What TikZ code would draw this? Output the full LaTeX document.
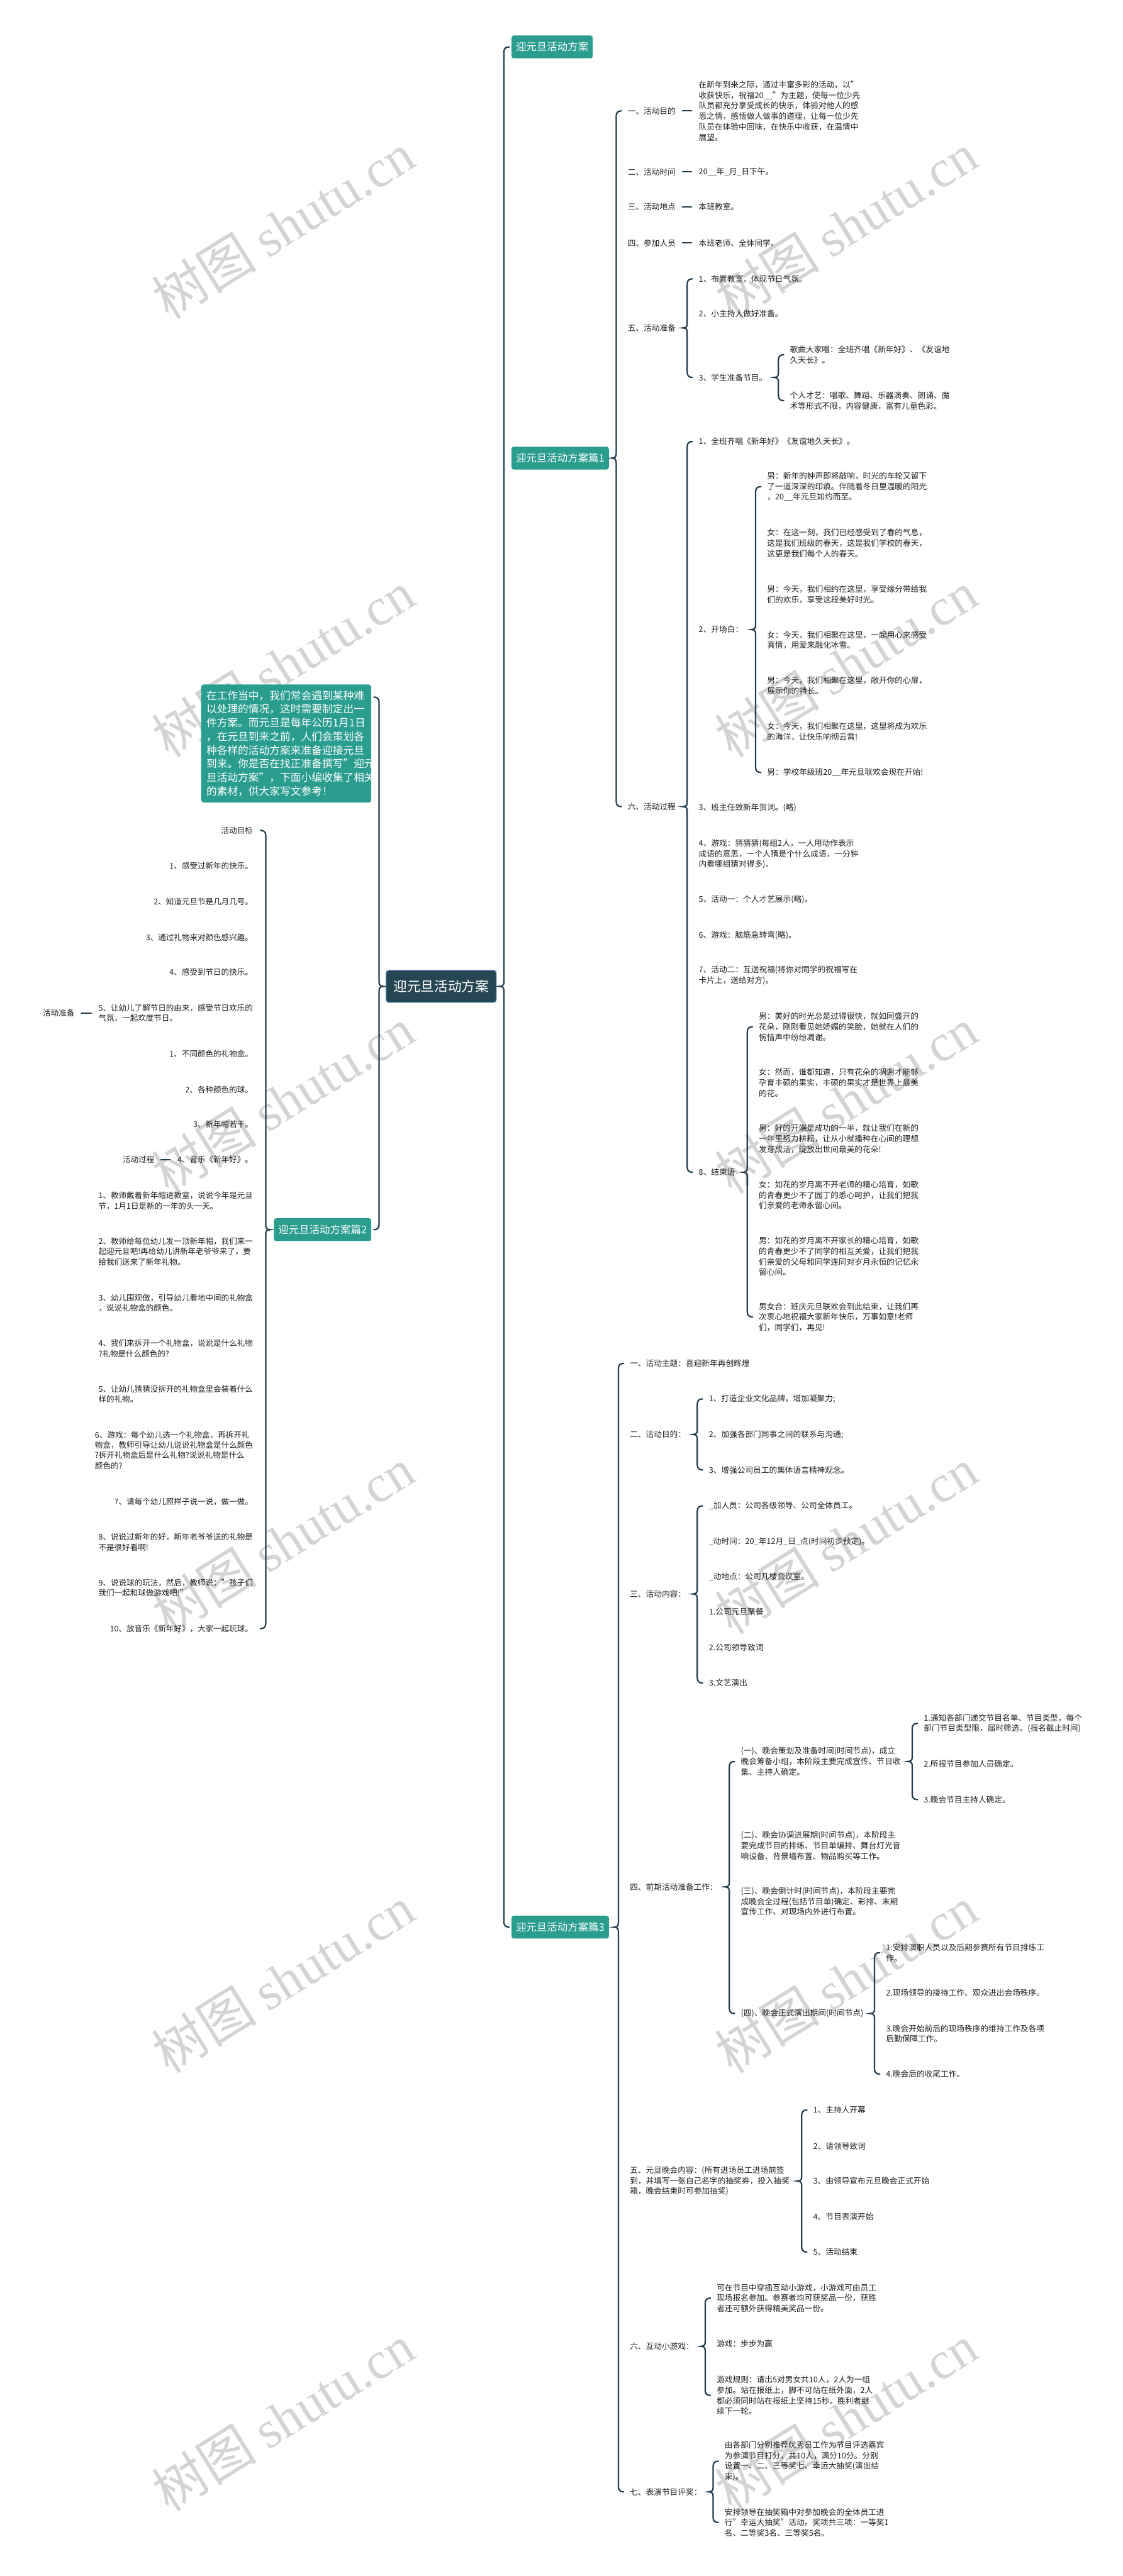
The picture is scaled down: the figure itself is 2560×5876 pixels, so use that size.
\documentclass[tikz,border=0pt]{standalone}
\usepackage{fontspec}
\setmainfont{Noto Sans CJK SC}
\newfontfamily\wmlat{Liberation Serif}
\usetikzlibrary{calc}
\definecolor{lineC}{HTML}{233D4D}
\definecolor{tealC}{HTML}{2A9D8F}
\definecolor{rootC}{HTML}{264653}
\definecolor{rootB}{RGB}{70,125,180}
\definecolor{wmC}{RGB}{212,212,212}
\tikzset{
  txt/.style={inner sep=0pt, font=\fontsize{9.1}{12}\selectfont, align=left, text=black!88},
  ltxt/.style={inner sep=0pt, font=\fontsize{9}{11.8}\selectfont, align=left, text=black!88},
  conn/.style={draw=lineC, line width=1.6pt, line cap=round},
  tbox/.style={fill=tealC, rounded corners=2.5pt, text=white, font=\fontsize{11.8}{14}\selectfont, inner xsep=5pt, inner ysep=0pt, minimum height=26pt},
  sumbox/.style={fill=tealC, rounded corners=3pt, text=white, font=\fontsize{12}{15.6}\selectfont, align=left, text width=182pt, inner xsep=6pt, inner ysep=7pt},
  rootbox/.style={fill=rootC, draw=rootB, line width=0.8pt, rounded corners=3pt, text=white, font=\fontsize{15.5}{18}\selectfont, minimum width=125.5pt, minimum height=36.5pt},
  wm/.style={text=wmC, rotate=32, inner sep=0pt, font=\fontsize{60}{60}\selectfont}
}
% right brace: parent, first child, last child, gap
\newcommand\RB[4]{%
 \draw[conn] let \p1=(#1.east), \p2=(#2.west), \p3=(#3.west), \p4=($(#2.west)+(-#4,0)$) in
  (\x4+6pt,\y2) .. controls (\x4+2pt,\y2) and (\x4,\y2-2pt) .. (\x4,\y2-6pt)
  -- (\x4,\y1+5pt) .. controls (\x4,\y1+2pt) and (\x4-1pt,\y1) .. (\x4-5pt,\y1)
  .. controls (\x4-1pt,\y1) and (\x4,\y1-2pt) .. (\x4,\y1-5pt)
  -- (\x4,\y3+6pt) .. controls (\x4,\y3+2pt) and (\x4+2pt,\y3) .. (\x4+6pt,\y3);}
% left brace
\newcommand\LB[4]{%
 \draw[conn] let \p1=(#1.west), \p2=(#2.east), \p3=(#3.east), \p4=($(#2.east)+(#4,0)$) in
  (\x4-6pt,\y2) .. controls (\x4-2pt,\y2) and (\x4,\y2-2pt) .. (\x4,\y2-6pt)
  -- (\x4,\y1+5pt) .. controls (\x4,\y1+2pt) and (\x4+1pt,\y1) .. (\x4+5pt,\y1)
  .. controls (\x4+1pt,\y1) and (\x4,\y1-2pt) .. (\x4,\y1-5pt)
  -- (\x4,\y3+6pt) .. controls (\x4,\y3+2pt) and (\x4-2pt,\y3) .. (\x4-6pt,\y3);}
\newcommand\DR[2]{\draw[conn] ([xshift=7.5pt]#1.east) -- ([xshift=-8pt]#2.west);}
\newcommand\DL[2]{\draw[conn] ([xshift=-8pt]#1.west) -- ([xshift=7.5pt]#2.east);}
\begin{document}
\begin{tikzpicture}[x=0.5pt,y=-0.5pt]
\useasboundingbox (0,0) rectangle (2560,5876);
\fill[white] (0,0) rectangle (2560,5876);
% watermarks
\foreach \wy [count=\i] in {515,1515,2510,3515,4515,5515}{
  \node[wm] (wl\i) at (645,\wy) {树图 {\wmlat shutu.cn}};
  \node[wm] (wr\i) at (1929,\wy) {树图 {\wmlat shutu.cn}};
}
% root
\node[rootbox] (root) at (1006,2250) {迎元旦活动方案};
% main branches
\node[tbox, anchor=west] (t0) at (1166,107) {迎元旦活动方案};
\node[tbox, anchor=west] (t1) at (1166,1045) {迎元旦活动方案篇1};
\node[tbox, anchor=west] (t3) at (1166,4396) {迎元旦活动方案篇3};
\node[tbox, anchor=east] (t2) at (847,2805) {迎元旦活动方案篇2};
\node[sumbox, anchor=north east] (sum) at (847,1561) {在工作当中，我们常会遇到某种难\\以处理的情况，这时需要制定出一\\件方案。而元旦是每年公历1月1日\\，在元旦到来之前，人们会策划各\\种各样的活动方案来准备迎接元旦\\到来。你是否在找正准备撰写"迎元\\旦活动方案"，下面小编收集了相关\\的素材，供大家写文参考！};
\node[inner sep=0pt, minimum size=0pt] (sumhook) at ([yshift=-14.5pt]sum.north east) {};
\RB{root}{t0}{t3}{8.5pt}
\LB{root}{sumhook}{t2}{8.5pt}

% ---------- branch 1 ----------
\node[txt, anchor=west] (b1a) at (1431,253) {一、活动目的};
\node[txt, anchor=west] (p1a) at (1593,253) {在新年到来之际，通过丰富多彩的活动，以"\\收获快乐，祝福20\_\_"为主题，使每一位少先\\队员都充分享受成长的快乐，体验对他人的感\\恩之情，感悟做人做事的道理，让每一位少先\\队员在体验中回味，在快乐中收获，在温情中\\展望。};
\node[txt, anchor=west] (b1b) at (1431,392) {二、活动时间};
\node[txt, anchor=west] (p1b) at (1593,392) {20\_\_年\_月\_日下午。};
\node[txt, anchor=west] (b1c) at (1431,472) {三、活动地点};
\node[txt, anchor=west] (p1c) at (1593,472) {本班教室。};
\node[txt, anchor=west] (b1d) at (1431,554) {四、参加人员};
\node[txt, anchor=west] (p1d) at (1593,554) {本班老师、全体同学。};
\node[txt, anchor=west] (b1e) at (1431,748) {五、活动准备};
\node[txt, anchor=west] (c1) at (1593,636) {1、布置教室，体现节日气氛。};
\node[txt, anchor=west] (c2) at (1593,716) {2、小主持人做好准备。};
\node[txt, anchor=west] (c3) at (1593,861) {3、学生准备节目。};
\node[txt, anchor=west] (d1) at (1801,809) {歌曲大家唱：全班齐唱《新年好》、《友谊地\\久天长》。};
\node[txt, anchor=west] (d2) at (1801,914) {个人才艺：唱歌、舞蹈、乐器演奏、朗诵、魔\\术等形式不限，内容健康，富有儿童色彩。};
\node[txt, anchor=west] (b1f) at (1431,1840) {六、活动过程};
\node[txt, anchor=west] (e1) at (1593,1007) {1、全班齐唱《新年好》《友谊地久天长》。};
\node[txt, anchor=west] (e2) at (1593,1436) {2、开场白：};
\node[txt, anchor=west] (f1) at (1749,1110) {男：新年的钟声即将敲响，时光的车轮又留下\\了一道深深的印痕。伴随着冬日里温暖的阳光\\，20\_\_年元旦如约而至。};
\node[txt, anchor=west] (f2) at (1749,1239) {女：在这一刻，我们已经感受到了春的气息，\\这是我们班级的春天，这是我们学校的春天，\\这更是我们每个人的春天。};
\node[txt, anchor=west] (f3) at (1749,1356) {男：今天，我们相约在这里，享受缘分带给我\\们的欢乐，享受这段美好时光。};
\node[txt, anchor=west] (f4) at (1749,1460) {女：今天，我们相聚在这里，一起用心来感受\\真情，用爱来融化冰雪。};
\node[txt, anchor=west] (f5) at (1749,1564) {男：今天，我们相聚在这里，敞开你的心扉，\\展示你的特长。};
\node[txt, anchor=west] (f6) at (1749,1669) {女：今天，我们相聚在这里，这里将成为欢乐\\的海洋，让快乐响彻云霄!};
\node[txt, anchor=west] (f7) at (1749,1762) {男：学校年级班20\_\_年元旦联欢会现在开始!};
\node[txt, anchor=west] (e3) at (1593,1842) {3、班主任致新年贺词。(略)};
\node[txt, anchor=west] (e4) at (1593,1948) {4、游戏：猜猜猜(每组2人，一人用动作表示\\成语的意思，一个人猜是个什么成语，一分钟\\内看哪组猜对得多)。};
\node[txt, anchor=west] (e5) at (1593,2052) {5、活动一：个人才艺展示(略)。};
\node[txt, anchor=west] (e6) at (1593,2134) {6、游戏：脑筋急转弯(略)。};
\node[txt, anchor=west] (e7) at (1593,2225) {7、活动二：互送祝福(将你对同学的祝福写在\\卡片上，送给对方)。};
\node[txt, anchor=west] (e8) at (1593,2674) {8、结束语};
\node[txt, anchor=west] (g1) at (1730,2342) {男：美好的时光总是过得很快，就如同盛开的\\花朵，刚刚看见她娇媚的笑脸，她就在人们的\\惋惜声中纷纷凋谢。};
\node[txt, anchor=west] (g2) at (1730,2470) {女：然而，谁都知道，只有花朵的凋谢才能够\\孕育丰硕的果实，丰硕的果实才是世界上最美\\的花。};
\node[txt, anchor=west] (g3) at (1730,2598) {男：好的开端是成功的一半，就让我们在新的\\一年里努力耕耘，让从小就播种在心间的理想\\发芽成活，绽放出世间最美的花朵!};
\node[txt, anchor=west] (g4) at (1730,2726) {女：如花的岁月离不开老师的精心培育，如歌\\的青春更少不了园丁的悉心呵护，让我们把我\\们亲爱的老师永留心间。};
\node[txt, anchor=west] (g5) at (1730,2866) {男：如花的岁月离不开家长的精心培育，如歌\\的青春更少不了同学的相互关爱，让我们把我\\们亲爱的父母和同学连同对岁月永恒的记忆永\\留心间。};
\node[txt, anchor=west] (g6) at (1730,3004) {男女合：班庆元旦联欢会到此结束，让我们再\\次衷心地祝福大家新年快乐，万事如意!老师\\们，同学们，再见!};
\RB{t1}{b1a}{b1f}{13pt}
\DR{b1a}{p1a} \DR{b1b}{p1b} \DR{b1c}{p1c} \DR{b1d}{p1d}
\RB{b1e}{c1}{c3}{13pt}
\RB{c3}{d1}{d2}{13pt}
\RB{b1f}{e1}{e8}{13pt}
\RB{e2}{f1}{f7}{13pt}
\RB{e8}{g1}{g6}{13pt}

% ---------- branch 2 (left) ----------
\node[ltxt, anchor=east] (l0) at (577,1894) {活动目标};
\node[ltxt, anchor=east] (l1) at (577,1975) {1、感受过新年的快乐。};
\node[ltxt, anchor=east] (l2) at (577,2057) {2、知道元旦节是几月几号。};
\node[ltxt, anchor=east] (l3) at (577,2138) {3、通过礼物来对颜色感兴趣。};
\node[ltxt, anchor=east] (l4) at (577,2218) {4、感受到节日的快乐。};
\node[ltxt, anchor=east] (l5) at (577,2311) {5、让幼儿了解节日的由来，感受节日欢乐的\\气氛，一起欢度节日。};
\node[ltxt, anchor=east] (lprep) at ([xshift=-27pt]l5.west) {活动准备};
\node[ltxt, anchor=east] (l6) at (577,2404) {1、不同颜色的礼物盒。};
\node[ltxt, anchor=east] (l7) at (577,2485) {2、各种颜色的球。};
\node[ltxt, anchor=east] (l8) at (577,2565) {3、新年帽若干。};
\node[ltxt, anchor=east] (l9) at (577,2645) {4、音乐《新年好》。};
\node[ltxt, anchor=east] (lproc) at ([xshift=-26pt]l9.west) {活动过程};
\node[ltxt, anchor=east] (l10) at (577,2739) {1、教师戴着新年帽进教室，说说今年是元旦\\节，1月1日是新的一年的头一天。};
\node[ltxt, anchor=east] (l11) at (577,2855) {2、教师给每位幼儿发一顶新年帽，我们来一\\起迎元旦吧!再给幼儿讲新年老爷爷来了，要\\给我们送来了新年礼物。};
\node[ltxt, anchor=east] (l12) at (577,2972) {3、幼儿围观做，引导幼儿看地中间的礼物盒\\，说说礼物盒的颜色。};
\node[ltxt, anchor=east] (l13) at (577,3076) {4、我们来拆开一个礼物盒，说说是什么礼物\\?礼物是什么颜色的?};
\node[ltxt, anchor=east] (l14) at (577,3180) {5、让幼儿猜猜没拆开的礼物盒里会装着什么\\样的礼物。};
\node[ltxt, anchor=east] (l15) at (577,3308) {6、游戏：每个幼儿选一个礼物盒，再拆开礼\\物盒，教师引导让幼儿说说礼物盒是什么颜色\\?拆开礼物盒后是什么礼物?说说礼物是什么\\颜色的?};
\node[ltxt, anchor=east] (l16) at (577,3425) {7、请每个幼儿照样子说一说，做一做。};
\node[ltxt, anchor=east] (l17) at (577,3518) {8、说说过新年的好，新年老爷爷送的礼物是\\不是很好看啊!};
\node[ltxt, anchor=east] (l18) at (577,3622) {9、说说球的玩法，然后，教师说："孩子们\\我们一起和球做游戏吧!"};
\node[ltxt, anchor=east] (l19) at (577,3715) {10、放音乐《新年好》，大家一起玩球。};
\LB{t2}{l0}{l19}{14.5pt}
\DL{l5}{lprep} \DL{l9}{lproc}

% ---------- branch 3 ----------
\node[txt, anchor=west] (h1) at (1436,3110) {一、活动主题：喜迎新年再创辉煌};
\node[txt, anchor=west] (h2) at (1436,3272) {二、活动目的：};
\node[txt, anchor=west] (i1) at (1616,3191) {1、打造企业文化品牌，增加凝聚力;};
\node[txt, anchor=west] (i2) at (1616,3272) {2、加强各部门同事之间的联系与沟通;};
\node[txt, anchor=west] (i3) at (1616,3353) {3、增强公司员工的集体语言精神观念。};
\node[txt, anchor=west] (h3) at (1436,3636) {三、活动内容：};
\node[txt, anchor=west] (j1) at (1616,3435) {\_加人员：公司各级领导、公司全体员工。};
\node[txt, anchor=west] (j2) at (1616,3516) {\_动时间：20\_年12月\_日\_点(时间初步预定)。};
\node[txt, anchor=west] (j3) at (1616,3596) {\_动地点：公司几楼会议室。};
\node[txt, anchor=west] (j4) at (1616,3677) {1.公司元旦聚餐};
\node[txt, anchor=west] (j5) at (1616,3758) {2.公司领导致词};
\node[txt, anchor=west] (j6) at (1616,3839) {3.文艺演出};
\node[txt, anchor=west] (h4) at (1436,4304) {四、前期活动准备工作：};
\node[txt, anchor=west] (k1) at (1689,4018) {(一)、晚会策划及准备时间(时间节点)，成立\\晚会筹备小组，本阶段主要完成宣传、节目收\\集、主持人确定。};
\node[txt, anchor=west] (m1) at (2106,3931) {1.通知各部门递交节目名单、节目类型，每个\\部门节目类型限，届时筛选。(报名截止时间)};
\node[txt, anchor=west] (m2) at (2106,4024) {2.所报节目参加人员确定。};
\node[txt, anchor=west] (m3) at (2106,4105) {3.晚会节目主持人确定。};
\node[txt, anchor=west] (k2) at (1689,4210) {(二)、晚会协调进展期(时间节点)，本阶段主\\要完成节目的排练、节目单编排、舞台灯光音\\响设备、背景墙布置、物品购买等工作。};
\node[txt, anchor=west] (k3) at (1689,4337) {(三)、晚会倒计时(时间节点)，本阶段主要完\\成晚会全过程(包括节目单)确定、彩排、末期\\宣传工作、对现场内外进行布置。};
\node[txt, anchor=west] (k4) at (1689,4593) {(四)、晚会正式演出期间(时间节点)};
\node[txt, anchor=west] (n1) at (2020,4454) {1.安排演职人员以及后期参赛所有节目排练工\\作。};
\node[txt, anchor=west] (n2) at (2020,4546) {2.现场领导的接待工作、观众进出会场秩序。};
\node[txt, anchor=west] (n3) at (2020,4639) {3.晚会开始前后的现场秩序的维持工作及各项\\后勤保障工作。};
\node[txt, anchor=west] (n4) at (2020,4731) {4.晚会后的收尾工作。};
\node[txt, anchor=west] (h5) at (1436,4975) {五、元旦晚会内容：(所有进场员工进场前签\\到，并填写一张自己名字的抽奖券，投入抽奖\\箱，晚会结束时可参加抽奖)};
\node[txt, anchor=west] (o1) at (1854,4813) {1、主持人开幕};
\node[txt, anchor=west] (o2) at (1854,4895) {2、请领导致词};
\node[txt, anchor=west] (o3) at (1854,4975) {3、由领导宣布元旦晚会正式开始};
\node[txt, anchor=west] (o4) at (1854,5057) {4、节目表演开始};
\node[txt, anchor=west] (o5) at (1854,5137) {5、活动结束};
\node[txt, anchor=west] (h6) at (1436,5352) {六、互动小游戏：};
\node[txt, anchor=west] (q1) at (1634,5242) {可在节目中穿插互动小游戏，小游戏可由员工\\现场报名参加。参赛者均可获奖品一份，获胜\\者还可额外获得精美奖品一份。};
\node[txt, anchor=west] (q2) at (1634,5346) {游戏：步步为赢};
\node[txt, anchor=west] (q3) at (1634,5464) {游戏规则：请出5对男女共10人，2人为一组\\参加。站在报纸上，脚不可站在纸外面，2人\\都必须同时站在报纸上坚持15秒。胜利者继\\续下一轮。};
\node[txt, anchor=west] (h7) at (1436,5684) {七、表演节目评奖：};
\node[txt, anchor=west] (r1) at (1652,5614) {由各部门分别推荐优秀员工作为节目评选嘉宾\\为参演节目打分，共10人，满分10分。分别\\设置一、二、三等奖七、幸运大抽奖(演出结\\束)。};
\node[txt, anchor=west] (r2) at (1652,5754) {安排领导在抽奖箱中对参加晚会的全体员工进\\行"幸运大抽奖"活动。奖项共三项：一等奖1\\名、二等奖3名、三等奖5名。};
\RB{t3}{h1}{h7}{13pt}
\RB{h2}{i1}{i3}{13pt}
\RB{h3}{j1}{j6}{13pt}
\RB{h4}{k1}{k4}{13pt}
\RB{k1}{m1}{m3}{13pt}
\RB{k4}{n1}{n4}{13pt}
\RB{h5}{o1}{o5}{13pt}
\RB{h6}{q1}{q3}{13pt}
\RB{h7}{r1}{r2}{13pt}
\end{tikzpicture}
\end{document}
